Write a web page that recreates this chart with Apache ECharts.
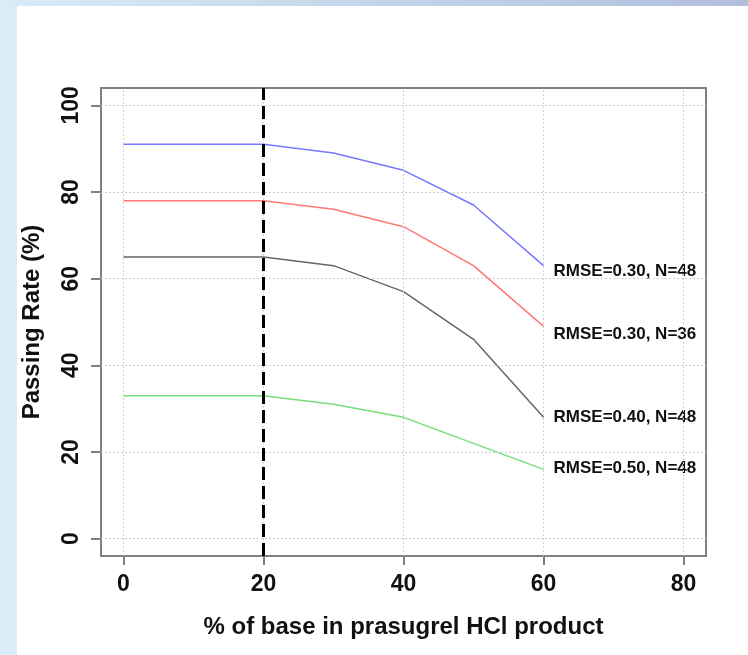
<!DOCTYPE html>
<html>
<head>
<meta charset="utf-8">
<script src="https://cdn.jsdelivr.net/npm/echarts@6/dist/echarts.min.js"></script>
<style>
  html, body { margin: 0; padding: 0; background: #fff; }
  #chart { width: 748px; height: 655px; }
</style>
</head>
<body>
<div id="chart"></div>
<script>
// data
const xValues = [0, 10, 20, 30, 40, 50, 60]
const rmse30n48 = [91, 91, 91, 89, 85, 77, 63]
const rmse30n36 = [78, 78, 78, 76, 72, 63, 49]
const rmse40n48 = [65, 65, 65, 63, 57, 46, 28]
const rmse50n48 = [33, 33, 33, 31, 28, 22, 16]
const seriesNames = ['RMSE=0.30, N=48', 'RMSE=0.30, N=36', 'RMSE=0.40, N=48', 'RMSE=0.50, N=48']
const xTicks = [0, 20, 40, 60, 80]
const yTicks = [0, 20, 40, 60, 80, 100]
const cutoff = 20

const font = 'Liberation Sans, Arial, sans-serif'
const colors = ['#7777ff', '#ff7777', '#666666', '#77dd77']
const labelShift = [6, 8, 0, -1] // end label nudge, px

const chart = echarts.init(document.getElementById('chart'))

const lines = [rmse30n48, rmse30n36, rmse40n48, rmse50n48].map((vals, i) => ({
  name: seriesNames[i],
  type: 'line',
  data: xValues.map((x, j) => [x, vals[j]]),
  symbol: 'none',
  z: 3,
  lineStyle: { color: colors[i], width: 1.5 },
  endLabel: {
    show: true,
    formatter: '{a}',
    distance: 10,
    offset: [0, labelShift[i]],
    color: '#111',
    fontFamily: font,
    fontWeight: 'bold',
    fontSize: 17
  }
}))

chart.setOption({
  animation: false,
  backgroundColor: '#fff',
  graphic: [
    { type: 'rect', shape: { x: 0, y: 0, width: 17, height: 655 }, style: { fill: '#d9ecf7' }, silent: true },
    {
      type: 'rect',
      shape: { x: 0, y: 0, width: 748, height: 6 },
      style: {
        fill: new echarts.graphic.LinearGradient(0, 0, 1, 0, [
          { offset: 0, color: '#d9ecf7' },
          { offset: 1, color: '#b2bedc' }
        ])
      },
      silent: true
    }
  ],
  grid: {
    left: 101,
    right: 42,
    top: 88,
    bottom: 99,
    show: true,
    borderColor: '#808080',
    borderWidth: 2
  },
  xAxis: {
    type: 'value',
    min: -3.2,
    max: 83.2,
    name: '% of base in prasugrel HCl product',
    nameLocation: 'middle',
    nameGap: 59,
    nameTextStyle: { fontFamily: font, fontWeight: 'bold', fontSize: 24, color: '#111' },
    axisLine: { show: false, onZero: false },
    splitLine: { show: false },
    axisTick: { customValues: xTicks, length: 9, lineStyle: { color: '#808080', width: 2 } },
    axisLabel: { customValues: xTicks, margin: 17, fontFamily: font, fontWeight: 'bold', fontSize: 23, color: '#111' }
  },
  yAxis: {
    type: 'value',
    min: -4,
    max: 104,
    name: 'Passing Rate (%)',
    nameLocation: 'middle',
    nameGap: 57,
    nameTextStyle: { fontFamily: font, fontWeight: 'bold', fontSize: 24, color: '#111' },
    axisLine: { show: false, onZero: false },
    splitLine: { show: false },
    axisTick: { customValues: yTicks, length: 10, lineStyle: { color: '#808080', width: 2 } },
    axisLabel: { customValues: yTicks, rotate: 90, margin: 18, fontFamily: font, fontWeight: 'bold', fontSize: 23, color: '#111' }
  },
  series: [
    {
      // dotted grid
      type: 'line',
      data: [],
      z: 1,
      markLine: {
        silent: true,
        symbol: 'none',
        label: { show: false },
        lineStyle: { color: '#d0d0d0', type: [2, 2], width: 1 },
        data: xTicks.map(v => ({ xAxis: v })).concat(yTicks.map(v => ({ yAxis: v })))
      }
    },
    ...lines,
    {
      // cut-off line
      type: 'line',
      data: [],
      z: 5,
      markLine: {
        silent: true,
        symbol: 'none',
        label: { show: false },
        lineStyle: { color: '#000', type: [13, 6], width: 3 },
        data: [{ xAxis: cutoff }]
      }
    }
  ]
})
</script>
</body>
</html>
